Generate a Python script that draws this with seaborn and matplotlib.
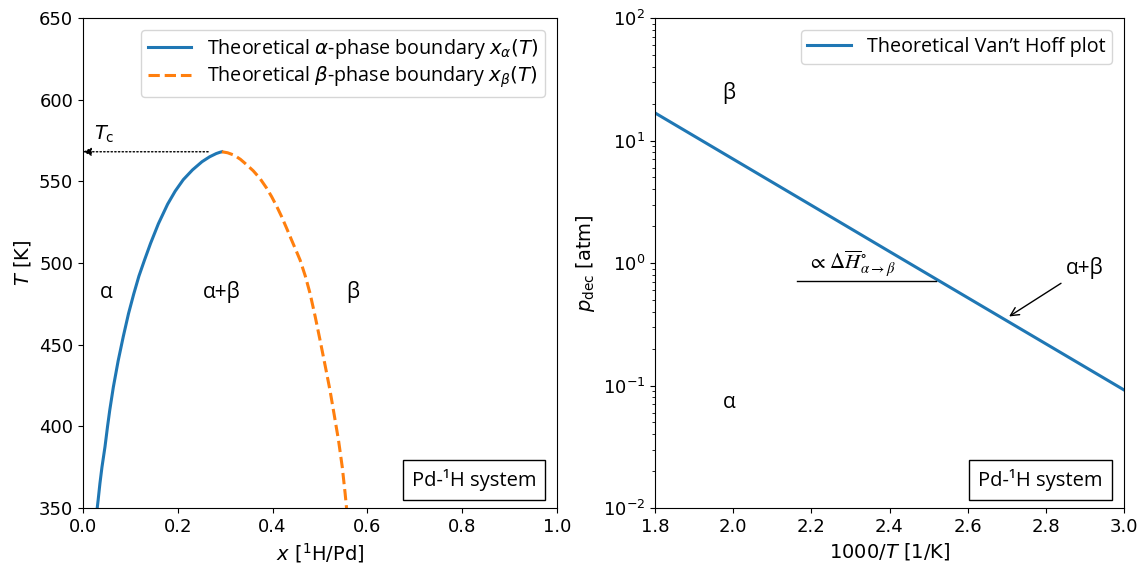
import numpy as np
import pandas as pd
import matplotlib
matplotlib.use("Agg")
import matplotlib.pyplot as plt
import seaborn as sns

# ---- data: left panel (phase boundaries) ----
T_alpha = [350.0, 355.0, 365.0, 375.0, 387.5, 400.0, 410.0, 424.0, 440.0, 455.0, 469.0,
           481.0, 492.0, 502.0, 512.0, 524.0, 536.0, 544.0, 551.0, 557.0, 562.0, 565.0,
           567.0, 567.8, 568.1]
x_alpha = [0.030, 0.032, 0.0357, 0.040, 0.0464, 0.0518, 0.0565, 0.064, 0.0741, 0.085, 0.096,
           0.107, 0.118, 0.130, 0.1425, 0.159, 0.1785, 0.1945, 0.2115, 0.231, 0.251, 0.267,
           0.281, 0.289, 0.293]
T_beta = [568.1, 567.5, 566.0, 563.5, 561.0, 556.5, 551.9, 546.0, 540.6, 534.5, 528.4,
          521.0, 514.1, 508.0, 501.8, 492.0, 481.4, 467.0, 452.9, 437.0, 422.2, 407.0,
          391.6, 375.0, 359.0, 350.0]
x_beta = [0.293, 0.305, 0.319, 0.332, 0.342, 0.359, 0.373, 0.387, 0.398, 0.409, 0.419,
          0.430, 0.440, 0.449, 0.458, 0.469, 0.479, 0.490, 0.500, 0.511, 0.521, 0.530,
          0.539, 0.547, 0.553, 0.556]
T_c = 568.1

# ---- data: right panel (Van't Hoff) ----
inv_T = [1.8, 2.0, 2.2, 2.4, 2.6, 2.8, 3.0]
p_dec = [16.8, 7.05, 2.96, 1.24, 0.521, 0.219, 0.092]

left_xticks = [0.0, 0.2, 0.4, 0.6, 0.8, 1.0]
left_yticks = [350, 400, 450, 500, 550, 600, 650]
right_xticks = [1.8, 2.0, 2.2, 2.4, 2.6, 2.8, 3.0]

TXT_FONT = ["Open Sans", "DejaVu Sans"]

fig = plt.figure(figsize=(11.46, 5.70), dpi=100)
ax1 = fig.add_axes([83/1146, 1-508/570, (557-83)/1146, (508-18)/570])
ax2 = fig.add_axes([655/1146, 1-508/570, (1124-655)/1146, (508-18)/570])

c_blue = "#1f77b4"
c_orange = "#ff7f0e"

df_a = pd.DataFrame({"x": x_alpha, "T": T_alpha})
df_b = pd.DataFrame({"x": x_beta, "T": T_beta})
sns.lineplot(data=df_a, x="x", y="T", ax=ax1, color=c_blue, lw=2.2, sort=False,
             estimator=None, label=r"Theoretical $\alpha$-phase boundary $x_{\alpha}(T)$")
sns.lineplot(data=df_b, x="x", y="T", ax=ax1, color=c_orange, lw=2.2, sort=False,
             estimator=None, linestyle="--",
             label=r"Theoretical $\beta$-phase boundary $x_{\beta}(T)$")

ax1.set_xlim(0, 1.0)
ax1.set_ylim(350, 650)
ax1.set_xticks(left_xticks)
ax1.set_yticks(left_yticks)
ax1.set_xlabel(r"$x$ [$^{1}$H/Pd]", fontsize=14)
ax1.set_ylabel(r"$T$ [K]", fontsize=14)
ax1.tick_params(labelsize=13)
ax1.legend(loc="upper right", prop={"family": TXT_FONT, "size": 14.2},
           labelspacing=0.2, borderpad=0.35, handlelength=2.2, borderaxespad=0.6)

ax1.annotate("", xy=(0.0, T_c), xytext=(0.264, T_c),
             arrowprops=dict(arrowstyle="-|>", linestyle=":", color="black", lw=1,
                             mutation_scale=12, shrinkA=0, shrinkB=0))
ax1.text(0.024, 579, r"$T_{\rm c}$", fontsize=14, ha="left", va="center")
for lbl, xx in [("α", 0.049), ("α+β", 0.293), ("β", 0.57)]:
    ax1.text(xx, 482, lbl, fontsize=15, ha="center", va="center", family=TXT_FONT)
ax1.text(0.956, 0.035, "Pd-¹H system", transform=ax1.transAxes, ha="right", va="bottom",
         fontsize=14.5, family=TXT_FONT,
         bbox=dict(boxstyle="square,pad=0.45", facecolor="white", edgecolor="black", lw=1))

# ---- right panel ----
df_v = pd.DataFrame({"invT": inv_T, "p": p_dec})
sns.lineplot(data=df_v, x="invT", y="p", ax=ax2, color=c_blue, lw=2.2,
             estimator=None, label="Theoretical Van\u2019t Hoff plot")
ax2.set_yscale("log")
ax2.set_xlim(1.8, 3.0)
ax2.set_ylim(1e-2, 1e2)
ax2.set_xticks(right_xticks)
ax2.set_xlabel(r"1000/$T$ [1/K]", fontsize=14)
ax2.set_ylabel(r"$p_{\rm dec}$ [atm]", fontsize=14)
ax2.tick_params(labelsize=13)
ax2.legend(loc="upper right", prop={"family": TXT_FONT, "size": 14.2},
           borderpad=0.35, handlelength=2.2, borderaxespad=0.6)

ax2.plot([2.163, 2.52], [0.71, 0.71], color="black", lw=1)
ax2.text(2.19, 0.98, r"$\propto\,\Delta\overline{H}^{\circ}_{\alpha\rightarrow\beta}$",
         fontsize=15, ha="left", va="center", math_fontfamily="stix")
ax2.annotate("α+β", xy=(2.70, 0.356), xytext=(2.90, 0.91), fontsize=15,
             ha="center", va="center", family=TXT_FONT,
             arrowprops=dict(arrowstyle="->", color="black", lw=1))
ax2.text(1.989, 24.5, "β", fontsize=15, ha="center", va="center", family=TXT_FONT)
ax2.text(1.989, 0.0733, "α", fontsize=15, ha="center", va="center", family=TXT_FONT)
ax2.text(0.955, 0.035, "Pd-¹H system", transform=ax2.transAxes, ha="right", va="bottom",
         fontsize=14.5, family=TXT_FONT,
         bbox=dict(boxstyle="square,pad=0.45", facecolor="white", edgecolor="black", lw=1))

fig.savefig("out.png", dpi=100)
